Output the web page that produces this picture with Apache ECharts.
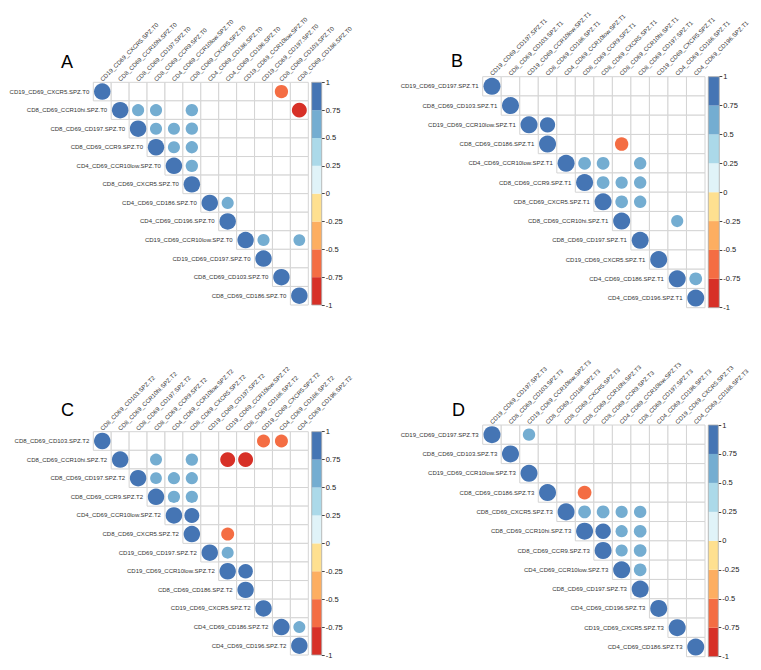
<!DOCTYPE html>
<html><head><meta charset="utf-8">
<script src="https://cdn.jsdelivr.net/npm/echarts@6/dist/echarts.min.js"></script>
<style>html,body{margin:0;padding:0;background:#fff}#c{width:761px;height:670px}</style>
</head><body><div id="c"></div>
<script>
// ---------- data ----------
const varsT0 = ['CD19_CD69_CXCR5.SPZ.T0','CD8_CD69_CCR10hi.SPZ.T0','CD8_CD69_CD197.SPZ.T0','CD8_CD69_CCR9.SPZ.T0','CD4_CD69_CCR10low.SPZ.T0','CD8_CD69_CXCR5.SPZ.T0','CD4_CD69_CD186.SPZ.T0','CD4_CD69_CD196.SPZ.T0','CD19_CD69_CCR10low.SPZ.T0','CD19_CD69_CD197.SPZ.T0','CD8_CD69_CD103.SPZ.T0','CD8_CD69_CD186.SPZ.T0'];
// [row, col, r]
const corrT0 = [[0,0,1],[0,10,-0.65],[1,1,1],[1,2,0.54],[1,3,0.54],[1,5,0.56],[1,11,-0.82],[2,2,1],[2,3,0.54],[2,4,0.54],[2,5,0.56],[3,3,1],[3,4,0.54],[3,5,0.56],[4,4,1],[4,5,0.56],[5,5,1],[6,6,1],[6,7,0.54],[7,7,1],[8,8,1],[8,9,0.54],[8,11,0.51],[9,9,1],[10,10,1],[11,11,1]];

const varsT1 = ['CD19_CD69_CD197.SPZ.T1','CD8_CD69_CD103.SPZ.T1','CD19_CD69_CCR10low.SPZ.T1','CD8_CD69_CD186.SPZ.T1','CD4_CD69_CCR10low.SPZ.T1','CD8_CD69_CCR9.SPZ.T1','CD8_CD69_CXCR5.SPZ.T1','CD8_CD69_CCR10hi.SPZ.T1','CD8_CD69_CD197.SPZ.T1','CD19_CD69_CXCR5.SPZ.T1','CD4_CD69_CD186.SPZ.T1','CD4_CD69_CD196.SPZ.T1'];
const corrT1 = [[0,0,1],[1,1,1],[2,2,1],[2,3,0.8],[3,3,1],[3,7,-0.62],[4,4,1],[4,5,0.56],[4,6,0.56],[4,8,0.53],[5,5,1],[5,6,0.56],[5,7,0.52],[5,8,0.53],[6,6,1],[6,7,0.55],[6,8,0.53],[7,7,1],[7,10,0.51],[8,8,1],[9,9,1],[10,10,1],[10,11,0.56],[11,11,1]];

const varsT2 = ['CD8_CD69_CD103.SPZ.T2','CD8_CD69_CCR10hi.SPZ.T2','CD8_CD69_CD197.SPZ.T2','CD8_CD69_CCR9.SPZ.T2','CD4_CD69_CCR10low.SPZ.T2','CD8_CD69_CXCR5.SPZ.T2','CD19_CD69_CD197.SPZ.T2','CD19_CD69_CCR10low.SPZ.T2','CD8_CD69_CD186.SPZ.T2','CD19_CD69_CXCR5.SPZ.T2','CD4_CD69_CD186.SPZ.T2','CD4_CD69_CD196.SPZ.T2'];
const corrT2 = [[0,0,1],[0,9,-0.62],[0,10,-0.62],[1,1,1],[1,3,0.53],[1,5,0.56],[1,7,-0.82],[1,8,-0.82],[2,2,1],[2,3,0.51],[2,4,0.55],[2,5,0.55],[3,3,1],[3,4,0.55],[3,5,0.55],[4,4,1],[4,5,0.82],[5,5,1],[5,7,-0.62],[6,6,1],[6,7,0.53],[7,7,1],[7,8,0.78],[8,8,1],[9,9,1],[10,10,1],[10,11,0.53],[11,11,1]];

const varsT3 = ['CD19_CD69_CD197.SPZ.T3','CD8_CD69_CD103.SPZ.T3','CD19_CD69_CCR10low.SPZ.T3','CD8_CD69_CD186.SPZ.T3','CD8_CD69_CXCR5.SPZ.T3','CD8_CD69_CCR10hi.SPZ.T3','CD8_CD69_CCR9.SPZ.T3','CD4_CD69_CCR10low.SPZ.T3','CD8_CD69_CD197.SPZ.T3','CD4_CD69_CD196.SPZ.T3','CD19_CD69_CXCR5.SPZ.T3','CD4_CD69_CD186.SPZ.T3'];
const corrT3 = [[0,0,1],[0,2,0.53],[1,1,1],[2,2,1],[3,3,1],[3,5,-0.65],[4,4,1],[4,5,0.56],[4,6,0.56],[4,7,0.51],[4,8,0.53],[5,5,1],[5,6,0.82],[5,7,0.51],[5,8,0.55],[6,6,1],[6,7,0.51],[6,8,0.55],[7,7,1],[7,8,0.55],[8,8,1],[9,9,1],[10,10,1],[11,11,1]];

const panelLetters = ['A','B','C','D'];
const colorBreaks = [-1,-0.75,-0.5,-0.25,0,0.25,0.5,0.75,1];

// ---------- style / layout ----------
const palette = ['#D73027','#F46D43','#FDAE61','#FEE090','#E0F3F8','#ABD9E9','#74ADD1','#4575B4'];
const FONT = 'Liberation Sans, Arial, sans-serif';
const LABEL_SIZE = 6;
const layouts = [
  {g:{left:93.3, top:82.3, width:215, height:222.7}, cb:{left:311.7, width:10}, t:[66,59]},
  {g:{left:482.7, top:76.7, width:222.3, height:231}, cb:{left:708.3, width:11}, t:[456,58]},
  {g:{left:93.3, top:431.7, width:215, height:223.3}, cb:{left:311.7, width:10}, t:[66,407]},
  {g:{left:482.7, top:425, width:222.3, height:231.7}, cb:{left:708.3, width:10}, t:[457,407]}
];
const panels = [[varsT0,corrT0],[varsT1,corrT1],[varsT2,corrT2],[varsT3,corrT3]];

function colorOf(v){
  for (let k=0;k<palette.length;k++){ if (v<=colorBreaks[k+1]) return palette[k]; }
  return palette[palette.length-1];
}

const option = {animation:false, backgroundColor:'#fff', grid:[], xAxis:[], yAxis:[], series:[], title:[]};

panels.forEach((pn, pi) => {
  const vars = pn[0], corr = pn[1], L = layouts[pi];
  const gi = option.grid.length;
  option.grid.push(Object.assign({containLabel:false}, L.g));
  option.xAxis.push({type:'category', gridIndex:gi, data:vars, show:false});
  option.yAxis.push({type:'category', gridIndex:gi, data:vars, inverse:true, show:false});
  // cells of upper triangle
  const cells = [];
  vars.forEach((_,i)=>{ for(let j=i;j<vars.length;j++) cells.push([j,i]); });
  option.series.push({type:'custom', xAxisIndex:gi, yAxisIndex:gi, silent:true, z:1, data:cells,
    renderItem:(params, api)=>{
      const p = api.coord([api.value(0), api.value(1)]); const s = api.size([1,1]);
      return {type:'rect', shape:{x:p[0]-s[0]/2, y:p[1]-s[1]/2, width:s[0], height:s[1]},
        style:{fill:'#fff', stroke:'#d4d4d4', lineWidth:1}};
    }});
  // circles
  option.series.push({type:'custom', xAxisIndex:gi, yAxisIndex:gi, z:3,
    data: corr.map(d=>[d[1], d[0], d[2]]),
    renderItem:(params, api)=>{
      const v = api.value(2);
      const p = api.coord([api.value(0), api.value(1)]); const s = api.size([1,1]);
      const r = 0.46*Math.sqrt(Math.abs(v))*Math.min(s[0], s[1]);
      return {type:'circle', shape:{cx:p[0], cy:p[1], r:r}, style:{fill:colorOf(v)}};
    }});
  // row labels (left of diagonal) and column labels (rotated, above the top row)
  option.series.push({type:'custom', xAxisIndex:gi, yAxisIndex:gi, z:4, silent:true,
    data: vars.map((n,i)=>[i,i]),
    renderItem:(params, api)=>{
      const i = api.value(0);
      const p = api.coord([i, api.value(1)]); const s = api.size([1,1]);
      const top = api.coord([i, 0])[1] - s[1]/2;
      return {type:'group', children:[
        {type:'text', x:p[0]-s[0]/2-4, y:p[1],
          style:{text:vars[i], align:'right', verticalAlign:'middle', fontSize:LABEL_SIZE, fontFamily:FONT, fill:'#333'}},
        {type:'text', x:p[0]-1, y:top-2, rotation:Math.PI/4,
          style:{text:vars[i], align:'left', verticalAlign:'middle', fontSize:LABEL_SIZE, fontFamily:FONT, fill:'#333'}}
      ]};
    }});
  // colour bar
  const ci = option.grid.length;
  option.grid.push({left:L.cb.left, width:L.cb.width, top:L.g.top, height:L.g.height});
  option.xAxis.push({type:'category', gridIndex:ci, data:[''], show:false});
  option.yAxis.push({type:'value', gridIndex:ci, min:-1, max:1, interval:0.25, position:'right',
    axisLine:{show:false}, splitLine:{show:false},
    axisTick:{show:true, length:3, lineStyle:{color:'#444', width:1}},
    axisLabel:{fontSize:7.5, color:'#222', fontFamily:FONT, margin:4}});
  const bands = palette.map((c,k)=>[0, colorBreaks[k], colorBreaks[k+1], k]);
  bands.push([0, colorBreaks[0], colorBreaks[colorBreaks.length-1], -1]);
  option.series.push({type:'custom', xAxisIndex:ci, yAxisIndex:ci, silent:true, data:bands,
    renderItem:(params, api)=>{
      const lo = api.coord([0, api.value(1)]), hi = api.coord([0, api.value(2)]);
      const w = api.size([1,0])[0]; const k = api.value(3);
      return {type:'rect', shape:{x:lo[0]-w/2, y:hi[1], width:w, height:lo[1]-hi[1]},
        style: k<0 ? {fill:'none', stroke:'#aaa', lineWidth:0.8} : {fill:palette[k]}};
    }});
  option.title.push({text:panelLetters[pi], left:L.t[0]-10, top:L.t[1]-11,
    textStyle:{fontSize:18, fontWeight:'normal', color:'#000', fontFamily:FONT}});
});

const chart = echarts.init(document.getElementById('c'), null, {renderer:'svg'});
chart.setOption(option);
</script>
</body></html>
